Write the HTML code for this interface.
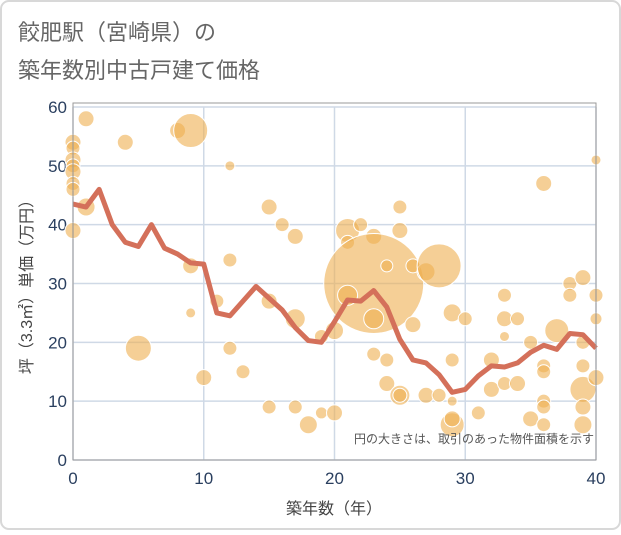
<!DOCTYPE html>
<html><head><meta charset="utf-8"><style>
body{margin:0;background:#fff;}
#wrap{position:relative;width:621px;height:530px;}
.jp{font-family:"Liberation Sans","Noto Sans CJK JP",sans-serif;}
</style></head><body>
<div id="wrap">
<svg id="chart" width="621" height="530" xmlns="http://www.w3.org/2000/svg" class="jp">
<rect x="1" y="1" width="619" height="528" rx="8" fill="#fff" stroke="#d8d8d8" stroke-width="2"/>
<text x="18" y="40" font-size="22" fill="#666">餃肥駅（宮崎県）の</text>
<text x="18" y="78" font-size="22" fill="#666">築年数別中古戸建て価格</text>
<g id="grid"></g>
<g id="bubbles"></g>
<g id="line"></g>
<g id="axes"></g>
<text x="594" y="443" font-size="12" fill="#555" text-anchor="end">円の大きさは、取引のあった物件面積を示す</text>
<text x="334" y="514" font-size="16" fill="#444" text-anchor="middle">築年数（年）</text>
<text transform="translate(32,283) rotate(-90)" font-size="16" fill="#444" text-anchor="middle">坪（3.3㎡）単価（万円）</text>
</svg>
</div>
<script>
const xTicks=[0,10,20,30,40];
const yTicks=[0,10,20,30,40,50,60];
const lineYears=[0,1,2,3,4,5,6,7,8,9,10,11,12,13,14,15,16,17,18,19,20,21,22,23,24,25,26,27,28,29,30,31,32,33,34,35,36,37,38,39,40];
const linePrices=[43.5,43,46,40,37,36.3,40,36,35,33.5,33.3,25,24.5,27,29.5,27.5,25.5,22.5,20.3,20,23.5,27.2,27,28.8,26,20.5,17,16.5,14.5,11.5,12,14.3,16,15.8,16.5,18.3,19.5,18.8,21.5,21.3,19];
const bubbleX=[0,0,0,0,0,0,0,0,1,1,4,5,8,9,9,9,10,11,12,12,12,13,15,16,17,15,17,15,17,18,19,20,19,20,21,21,22,23,23,21,23,24,25,25,26,27,28,26,23,24,24,25,25,27,28,29,30,29,29,29,29,31,32,32,33,33,34,33,33,34,35,35,36,36,36,36,36,36,37,38,38,39,39,39,39,39,39,40,40,40,40];
const bubbleY=[54,53,51,50,49,47,46,39,58,43,54,19,56,56,33,25,14,27,50,34,19,15,43,40,38,27,24,9,9,6,8,8,21,22,39,37,40,38,30,28,24,33,43,39,33,32,33,23,18,17,13,11,11,11,11,25,24,17,6,7,10,8,17,12,28,24,24,21,13,13,7,20,16,15,10,9,6,47,22,30,28,31,20,16,12,9,6,51,28,24,14];
const bubbleR=[8,7,8,7,8,7,7,8,8,9,8,13,8,17,8,5,8,7,5,7,7,7,8,7,8,8,10,7,7,9,6,8,7,9,12,7,7,8,50,10,10,6,7,8,7,9,22,8,7,7,8,10,7,8,7,9,7,7,12,8,5,7,8,8,7,8,7,5,7,8,8,7,7,7,7,7,7,8,12,7,7,8,7,7,13,8,9,5,7,6,8];
const X0=73,X1=596,Y0=460,Y1=107;
const xs=v=>X0+(v-0)/40*(X1-X0);
const ys=v=>Y0-(v-0)/60*(Y0-Y1);
const NS='http://www.w3.org/2000/svg';
function mk(tag,attrs,parent){const e=document.createElementNS(NS,tag);for(const k in attrs)e.setAttribute(k,attrs[k]);parent.appendChild(e);return e;}
const grid=document.getElementById('grid');
xTicks.forEach(t=>{
 const l=mk('line',{x1:xs(t),x2:xs(t),y1:Y1,y2:Y0,stroke:'#cfd9e6','stroke-width':1.5},grid);
 
 
 const tx=mk('text',{x:xs(t),y:Y0+24,'font-size':17,fill:'#2a3f5f','text-anchor':'middle'},grid);
 tx.textContent=t;
 
 
});
yTicks.forEach(t=>{
 const l=mk('line',{x1:X0,x2:X1,y1:ys(t),y2:ys(t),stroke:'#cfd9e6','stroke-width':1.5},grid);
 
 
 const tx=mk('text',{x:X0-6,y:ys(t)+6,'font-size':17,fill:'#2a3f5f','text-anchor':'end'},grid);
 tx.textContent=t;
 
 
});
const bg=document.getElementById('bubbles');
bubbleX.forEach((x,i)=>{
 const c=mk('circle',{cx:xs(x),cy:ys(bubbleY[i]),r:bubbleR[i],fill:'rgba(238,175,80,0.6)',stroke:'#fff','stroke-width':1},bg);
 
 
});
const lg=document.getElementById('line');
const pts=lineYears.map((y,i)=>xs(y)+','+ys(linePrices[i])).join(' ');
const pl=mk('polyline',{points:pts,fill:'none',stroke:'#d4705a','stroke-width':5,'stroke-linejoin':'round'},lg);


const ax=document.getElementById('axes');
const fr=mk('rect',{x:X0,y:Y1-4,width:X1-X0,height:Y0-Y1+4,fill:'none',stroke:'#999','stroke-width':1},ax);


</script>
</body></html>
